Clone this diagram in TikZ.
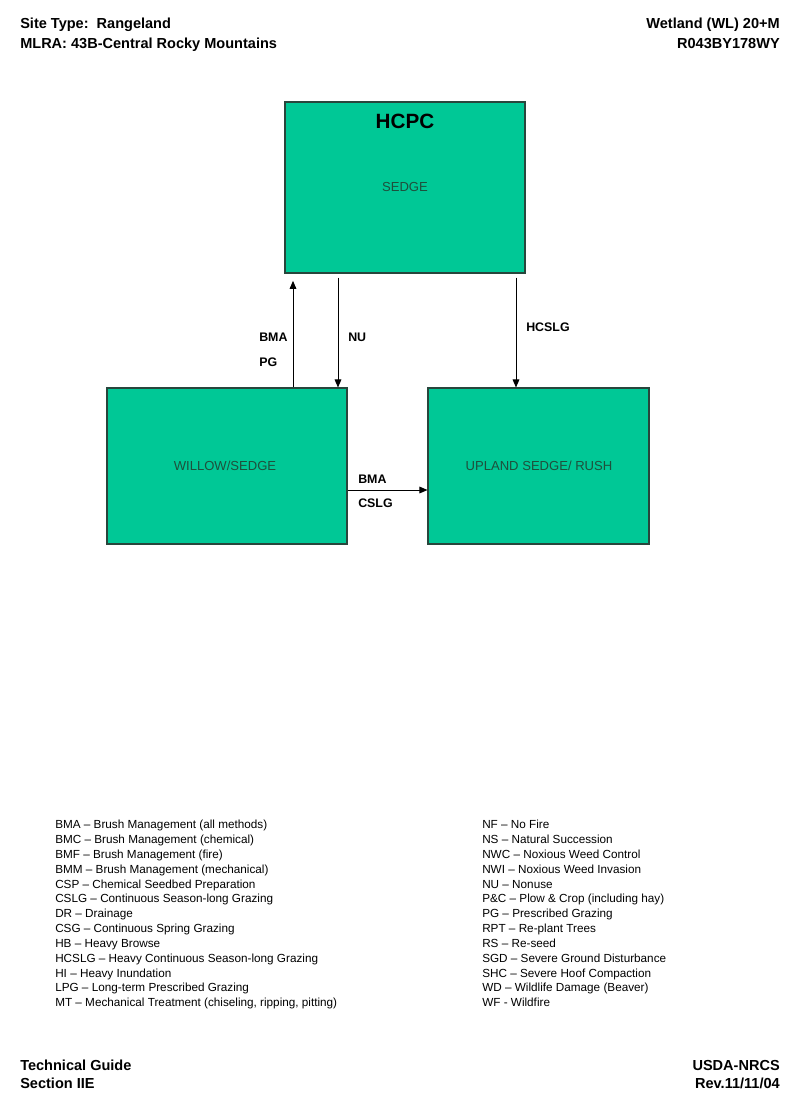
\documentclass[tikz,border=0pt]{standalone}
\usepackage{fontspec}
\setmainfont{Liberation Sans}
\usetikzlibrary{arrows.meta,calc}
\definecolor{boxfill}{RGB}{0,200,150}
\definecolor{boxline}{RGB}{40,70,60}
\definecolor{boxtext}{RGB}{30,80,60}
\begin{document}
\begin{tikzpicture}[x=0.75pt,y=-0.75pt,
  statebox/.style={draw=boxline,line width=0.8pt,fill=boxfill,rectangle,inner sep=0pt},
  statetext/.style={text=boxtext,font=\fontsize{9.8}{11}\selectfont,inner sep=0pt},
  hdr/.style={font=\bfseries\fontsize{10.9}{12}\selectfont,inner sep=0pt},
  lbl/.style={font=\bfseries\fontsize{9.3}{10}\selectfont,inner sep=0pt},
  arr/.style={-{Triangle[length=6pt,width=5pt]},line width=0.7pt,black},
  legend/.style={font=\fontsize{8.8}{11.12}\selectfont,align=left,anchor=north west,inner sep=0pt}]
\useasboundingbox (0,0) rectangle (800,1108);
\fill[white] (0,0) rectangle (800,1108);
% header
\node[hdr,anchor=base west] (h1) at (20,28) {Site Type:\ \ Rangeland};
\node[hdr,anchor=base west] (h2) at (20,48) {MLRA: 43B-Central Rocky Mountains};
\node[hdr,anchor=base east] (h3) at (780,28) {Wetland (WL) 20+M};
\node[hdr,anchor=base east] (h4) at (780,48) {R043BY178WY};
% footer
\node[hdr,anchor=base west] (f1) at (20,1070) {Technical Guide};
\node[hdr,anchor=base west] (f2) at (20,1088) {Section IIE};
\node[hdr,anchor=base east] (f3) at (780,1070) {USDA-NRCS};
\node[hdr,anchor=base east] (f4) at (780,1088) {Rev.11/11/04};
% boxes
\node[statebox,minimum width=180pt,minimum height=128.25pt] (hcpc) at (405,187.5) {};
\node[font=\bfseries\fontsize{15.5}{17}\selectfont,inner sep=0pt] (hcpct) at (405,121) {HCPC};
\node[statetext] (sedge) at (405,187) {SEDGE};
\node[statebox,minimum width=180pt,minimum height=117pt] (willow) at (227,466) {};
\node[statetext] (willowt) at (225,466) {WILLOW/SEDGE};
\node[statebox,minimum width=165.75pt,minimum height=117pt] (upland) at (538.5,466) {};
\node[statetext] (uplandt) at (539,466) {UPLAND SEDGE/ RUSH};
% arrows
\coordinate (xa) at (293,0);
\coordinate (xb) at (338,0);
\coordinate (xc) at (516,0);
\coordinate (yd) at (0,490);
\draw[arr,shorten >=5.5pt] (willow.north -| xa) -- (hcpc.south -| xa);
\draw[arr,shorten <=3pt] (hcpc.south -| xb) -- (willow.north -| xb);
\draw[arr,shorten <=3pt] (hcpc.south -| xc) -- (upland.north -| xc);
\draw[arr] (willow.east |- yd) -- (upland.west |- yd);
% labels
\node[lbl,anchor=west] (l1) at (259,337) {BMA};
\node[lbl,anchor=west] (l2) at (259,362) {PG};
\node[lbl,anchor=west] (l3) at (348,337) {NU};
\node[lbl,anchor=west] (l4) at (526,327) {HCSLG};
\node[lbl,anchor=west] (l5) at (358,479) {BMA};
\node[lbl,anchor=west] (l6) at (358,503) {CSLG};
% legend
\node[legend] (legL) at (55,820) {BMA -- Brush Management (all methods)\\
BMC -- Brush Management (chemical)\\
BMF -- Brush Management (fire)\\
BMM -- Brush Management (mechanical)\\
CSP -- Chemical Seedbed Preparation\\
CSLG -- Continuous Season-long Grazing\\
DR -- Drainage\\
CSG -- Continuous Spring Grazing\\
HB -- Heavy Browse\\
HCSLG -- Heavy Continuous Season-long Grazing\\
HI -- Heavy Inundation\\
LPG -- Long-term Prescribed Grazing\\
MT -- Mechanical Treatment (chiseling, ripping, pitting)};
\node[legend] (legR) at (482,820) {NF -- No Fire\\
NS -- Natural Succession\\
NWC -- Noxious Weed Control\\
NWI -- Noxious Weed Invasion\\
NU -- Nonuse\\
P\&C -- Plow \& Crop (including hay)\\
PG -- Prescribed Grazing\\
RPT -- Re-plant Trees\\
RS -- Re-seed\\
SGD -- Severe Ground Disturbance\\
SHC -- Severe Hoof Compaction\\
WD -- Wildlife Damage (Beaver)\\
WF - Wildfire};
\end{tikzpicture}
\end{document}
